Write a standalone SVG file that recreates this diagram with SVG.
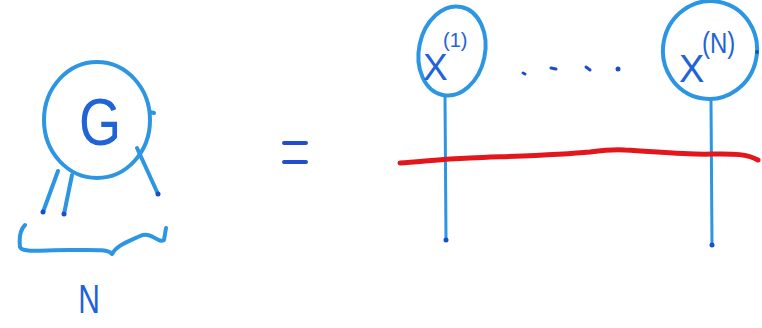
<svg xmlns="http://www.w3.org/2000/svg" width="762" height="328" viewBox="0 0 762 328">
<style>
.pen{fill:none;stroke:#2d96e3;stroke-width:4;stroke-linecap:round;stroke-linejoin:round}
.thin{fill:none;stroke:#2d96e3;stroke-width:3;stroke-linecap:round}
.ink{fill:#1f63d6;font-family:"Liberation Sans",Arial,sans-serif}
.dot{fill:#1a4fc8}
.red{fill:none;stroke:#e3171b;stroke-width:5;stroke-linecap:round;stroke-linejoin:round}
</style>
<rect width="762" height="328" fill="#ffffff"/>
<g id="node-G">
  <ellipse class="pen" cx="97" cy="120" rx="53" ry="58"/>
  <text class="ink" x="100" y="145" font-size="66" text-anchor="middle" transform="translate(100 120) scale(0.82 1) translate(-100 -120)">G</text>
  <path class="pen" d="M150 112 L154 113"/>
</g>
<g id="legs">
  <path class="pen" d="M58 171 L43 212"/>
  <path class="pen" d="M72 175 L64 214"/>
  <path class="pen" d="M137 148 L158 194"/>
  <circle class="dot" cx="43" cy="212" r="2.5"/>
  <circle class="dot" cx="64" cy="214" r="2.5"/>
  <circle class="dot" cx="158" cy="194" r="2.5"/>
</g>
<g id="brace">
  <path class="pen" d="M25 225 C20 230 19 238 20 247 C22 253 40 250 70 250 C95 250 108 249 112 254 C116 246 125 243 140 236 C152 231 158 244 164 240 L166 228"/>
</g>
<g id="label-N">
  <text class="ink" x="89" y="313" font-size="40" text-anchor="middle" transform="translate(89 300) scale(0.75 1) translate(-89 -300)">N</text>
</g>
<g id="equals">
  <path d="M284 143 L306 143 M284 162 L306 162" stroke="#1f4fd0" stroke-width="4" stroke-linecap="round"/>
</g>
<g id="connectors">
  <path class="thin" d="M445 96 L446 240"/>
  <path class="thin" d="M711 100 L712 245"/>
  <path class="red" d="M400 163 C420 162 440 159 470 158 C520 156 560 155 590 152 C605 150 615 149 625 150 C660 152 690 155 712 154 C730 154 745 153 758 160"/>
  <circle class="dot" cx="446" cy="240" r="2.5"/>
  <circle class="dot" cx="712" cy="245" r="2.5"/>
</g>
<g id="node-X1">
  <ellipse class="pen" cx="452" cy="51" rx="33" ry="45" transform="rotate(12 452 51)"/>
  <text class="ink" x="423" y="80" font-size="37">X</text>
  <text class="ink" x="443" y="47" font-size="20">(1)</text>
</g>
<g id="dots">
  <path d="M523 73 L525 74 M551 68 L556 69 M586 67 L590 70" stroke="#1a4fc8" stroke-width="3" stroke-linecap="round"/>
  <circle class="dot" cx="618" cy="69" r="2.5"/>
</g>
<g id="node-XN">
  <ellipse class="pen" cx="710" cy="50" rx="47" ry="49" transform="rotate(10 710 50)"/>
  <text class="ink" x="679" y="82" font-size="38">X</text>
  <text class="ink" x="702" y="53" font-size="30" transform="translate(702 53) scale(0.8 1) translate(-702 -53)">(N)</text>
  <circle class="dot" cx="757" cy="52" r="2"/>
</g>
</svg>
